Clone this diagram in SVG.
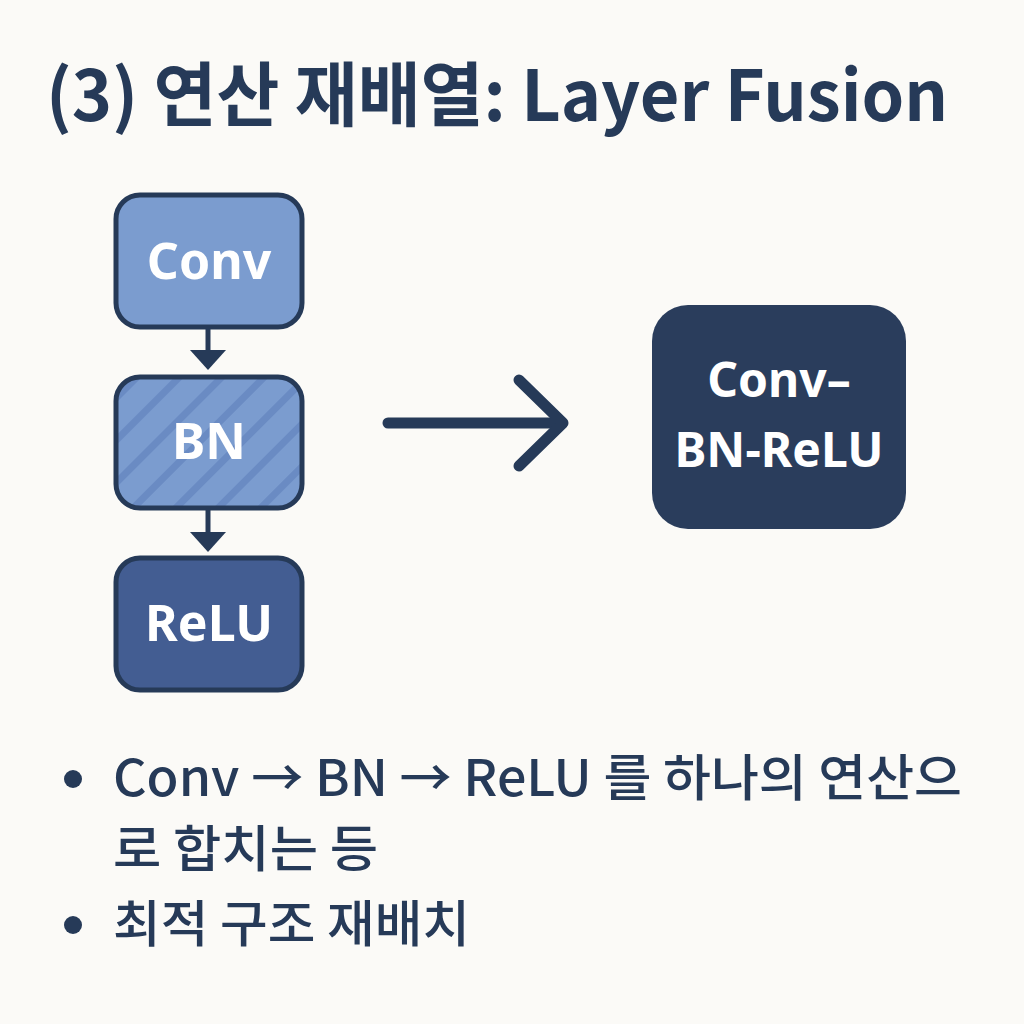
<svg xmlns="http://www.w3.org/2000/svg" width="1024" height="1024" viewBox="0 0 1024 1024">
<defs>
<style>
.t{font-family:"Noto Sans CJK KR","Noto Sans",sans-serif;fill:#263a58}
.lbl{font-family:"Noto Sans","Noto Sans CJK KR",sans-serif;font-weight:700;fill:#ffffff;text-anchor:middle}
.box{stroke:#263a58;stroke-width:5}
.conn{stroke:#263a58;fill:none}
</style>
<pattern id="hatch" patternUnits="userSpaceOnUse" width="30" height="30" patternTransform="rotate(45)">
<rect width="30" height="30" fill="#7b9ccf"/>
<rect x="0" y="0" width="7" height="30" fill="#6a8bc3"/>
</pattern>
</defs>
<rect width="1024" height="1024" fill="#fbfaf7"/>
<text class="t" x="46" y="121" font-size="70" font-weight="700" textLength="902" lengthAdjust="spacingAndGlyphs">(3) 연산 재배열: Layer Fusion</text>
<g id="connectors">
<line class="conn" x1="208" y1="329" x2="208" y2="352" stroke-width="5"/>
<polygon points="190,350 226,350 208,370" fill="#263a58"/>
<line class="conn" x1="208" y1="510" x2="208" y2="534" stroke-width="5"/>
<polygon points="190,532 226,532 208,552" fill="#263a58"/>
<line class="conn" x1="388" y1="423" x2="562" y2="423" stroke-width="11" stroke-linecap="round"/>
<polyline class="conn" points="519,380 563,423 519,466" stroke-width="11" stroke-linecap="round" stroke-linejoin="round"/>
</g>
<g id="node-conv">
<rect class="box" x="116" y="195" width="186" height="132" rx="24" fill="#7b9ccf"/>
<text class="lbl" x="209" y="279" font-size="50">Conv</text>
</g>
<g id="node-bn">
<rect class="box" x="116" y="377" width="186" height="131" rx="24" fill="url(#hatch)"/>
<text class="lbl" x="209" y="459" font-size="50">BN</text>
</g>
<g id="node-relu">
<rect class="box" x="116" y="558" width="186" height="132" rx="24" fill="#435d92"/>
<text class="lbl" x="209" y="641" font-size="50">ReLU</text>
</g>
<g id="node-fused">
<rect x="652" y="305" width="254" height="224" rx="36" fill="#2a3d5c"/>
<text class="lbl" x="779" y="397" font-size="48" font-weight="500">Conv–</text>
<text class="lbl" x="779" y="467" font-size="48" font-weight="500">BN-ReLU</text>
</g>
<g id="bullets">
<circle cx="73" cy="779" r="9" fill="#263a58"/>
<text class="t" x="113" y="796" font-size="50" font-weight="500" textLength="849" lengthAdjust="spacingAndGlyphs">Conv → BN → ReLU 를 하나의 연산으</text>
<text class="t" x="113" y="867" font-size="50" font-weight="500" textLength="265" lengthAdjust="spacingAndGlyphs">로 합치는 등</text>
<circle cx="73" cy="925" r="9" fill="#263a58"/>
<text class="t" x="113" y="942" font-size="50" font-weight="500" textLength="357" lengthAdjust="spacingAndGlyphs">최적 구조 재배치</text>
</g>
</svg>
